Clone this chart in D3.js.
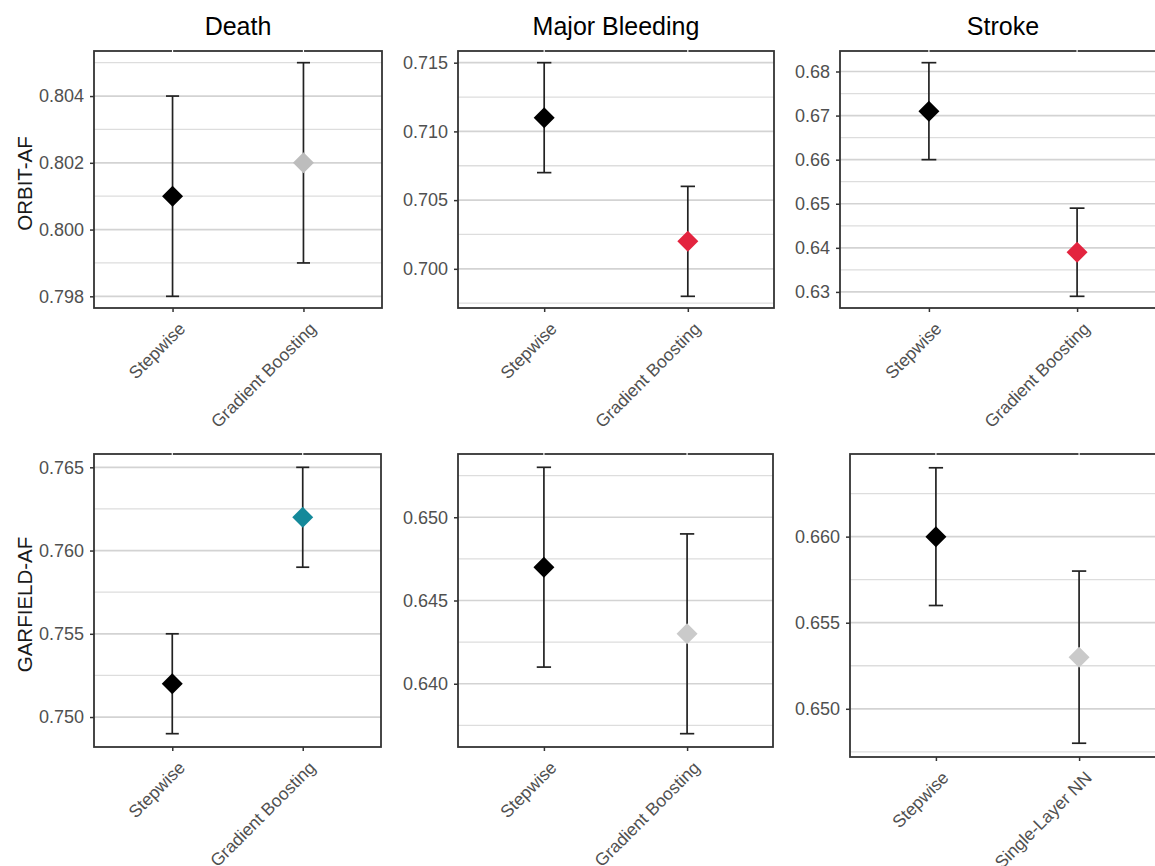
<!DOCTYPE html>
<html>
<head>
<meta charset="utf-8">
<script src="https://cdn.jsdelivr.net/npm/d3@7"></script>
<style>
  body { margin: 0; background: #fff; }
</style>
</head>
<body>
<svg id="chart" width="1155" height="866"></svg>
<script>
// Panels are ordered row by row: ORBIT-AF (top), GARFIELD-AF (bottom)
const outcomes = ['Death', 'Major Bleeding', 'Stroke']
const cohorts = ['ORBIT-AF', 'GARFIELD-AF']

const models = [
  ['Stepwise', 'Gradient Boosting'],
  ['Stepwise', 'Gradient Boosting'],
  ['Stepwise', 'Gradient Boosting'],
  ['Stepwise', 'Gradient Boosting'],
  ['Stepwise', 'Gradient Boosting'],
  ['Stepwise', 'Single-Layer NN']
]

const estimate = [
  [0.801, 0.802],
  [0.711, 0.702],
  [0.671, 0.639],
  [0.752, 0.762],
  [0.647, 0.643],
  [0.660, 0.653]
]
const lower = [
  [0.798, 0.799],
  [0.707, 0.698],
  [0.660, 0.629],
  [0.749, 0.759],
  [0.641, 0.637],
  [0.656, 0.648]
]
const upper = [
  [0.804, 0.805],
  [0.715, 0.706],
  [0.682, 0.649],
  [0.755, 0.765],
  [0.653, 0.649],
  [0.664, 0.658]
]

const yTicks = [
  [0.798, 0.800, 0.802, 0.804],
  [0.700, 0.705, 0.710, 0.715],
  [0.63, 0.64, 0.65, 0.66, 0.67, 0.68],
  [0.750, 0.755, 0.760, 0.765],
  [0.640, 0.645, 0.650],
  [0.650, 0.655, 0.660]
]
const tickFormats = ['.3f', '.3f', '.2f', '.3f', '.3f', '.3f']

// styling / layout
const pointColors = [
  ['#000000', '#bdbdbd'],
  ['#000000', '#e3243f'],
  ['#000000', '#e3243f'],
  ['#000000', '#14899a'],
  ['#000000', '#cacaca'],
  ['#000000', '#cacaca']
]

const panelBoxes = [
  { x0: 94, x1: 382, y0: 51, y1: 308 },
  { x0: 458, x1: 774, y0: 51, y1: 308 },
  { x0: 840, x1: 1166, y0: 51, y1: 308 },
  { x0: 94, x1: 381, y0: 454, y1: 747 },
  { x0: 458, x1: 773, y0: 454, y1: 747 },
  { x0: 850, x1: 1165, y0: 454, y1: 757 }
]

const FONT = '"Liberation Sans", Arial, sans-serif'
const svg = d3.select('#chart')
svg.append('rect').attr('width', 1155).attr('height', 866).attr('fill', '#fff')

panelBoxes.forEach((b, i) => {
  const lo = d3.min(lower[i])
  const hi = d3.max(upper[i])
  const pad = (hi - lo) * 0.05

  const y = d3.scaleLinear().domain([lo - pad, hi + pad]).range([b.y1, b.y0])
  const x = d3.scalePoint().domain(models[i]).range([b.x0, b.x1]).padding(0.6)

  const g = svg.append('g')

  // minor grid at half steps
  const ticks = yTicks[i]
  const step = ticks[1] - ticks[0]
  const minor = ticks.map((v) => v - step / 2).concat([ticks[ticks.length - 1] + step / 2])
    .filter((v) => v > y.domain()[0] && v < y.domain()[1])

  g.append('g')
    .selectAll('line.minor')
    .data(minor)
    .join('line')
    .attr('x1', b.x0).attr('x2', b.x1)
    .attr('y1', (d) => y(d)).attr('y2', (d) => y(d))
    .attr('stroke', '#dddddd')
    .attr('stroke-width', 1.3)

  g.append('g')
    .selectAll('line.major')
    .data(ticks)
    .join('line')
    .attr('x1', b.x0).attr('x2', b.x1)
    .attr('y1', (d) => y(d)).attr('y2', (d) => y(d))
    .attr('stroke', '#d3d3d3')
    .attr('stroke-width', 1.7)

  // error bars
  const bw = (x.step() * 0.1) / 2
  const bars = g.append('g')
    .selectAll('g')
    .data(models[i].map((m, k) => ({ m, est: estimate[i][k], lo: lower[i][k], hi: upper[i][k], col: pointColors[i][k] })))
    .join('g')
    .attr('stroke', '#222')
    .attr('stroke-width', 1.7)

  bars.append('line')
    .attr('x1', (d) => x(d.m)).attr('x2', (d) => x(d.m))
    .attr('y1', (d) => y(d.lo)).attr('y2', (d) => y(d.hi))
  bars.append('line')
    .attr('x1', (d) => x(d.m) - bw).attr('x2', (d) => x(d.m) + bw)
    .attr('y1', (d) => y(d.lo)).attr('y2', (d) => y(d.lo))
  bars.append('line')
    .attr('x1', (d) => x(d.m) - bw).attr('x2', (d) => x(d.m) + bw)
    .attr('y1', (d) => y(d.hi)).attr('y2', (d) => y(d.hi))

  // diamonds
  const r = 10.5
  g.append('g')
    .selectAll('path')
    .data(bars.data())
    .join('path')
    .attr('d', `M0,${-r}L${r},0L0,${r}L${-r},0Z`)
    .attr('transform', (d) => `translate(${x(d.m)},${y(d.est)})`)
    .attr('fill', (d) => d.col)

  // panel border
  g.append('rect')
    .attr('x', b.x0).attr('y', b.y0)
    .attr('width', b.x1 - b.x0).attr('height', b.y1 - b.y0)
    .attr('fill', 'none')
    .attr('stroke', '#333')
    .attr('stroke-width', 1.8)

  // faint white x-grid breaks over the top border
  g.append('g')
    .selectAll('line')
    .data(models[i])
    .join('line')
    .attr('x1', (d) => x(d)).attr('x2', (d) => x(d))
    .attr('y1', b.y0 - 1.5).attr('y2', b.y0 + 1.5)
    .attr('stroke', '#fff')
    .attr('stroke-width', 1.2)

  // y axis
  const yAxis = g.append('g')
    .attr('transform', `translate(${b.x0},0)`)
    .call(d3.axisLeft(y).tickValues(ticks).tickFormat(d3.format(tickFormats[i])).tickSize(4).tickPadding(6))
  yAxis.select('.domain').remove()
  yAxis.selectAll('line').attr('stroke', '#333').attr('stroke-width', 1.5)
  yAxis.selectAll('text')
    .attr('font-family', FONT)
    .attr('font-size', 18)
    .attr('fill', '#505050')

  // x axis
  const xAxis = g.append('g')
    .attr('transform', `translate(0,${b.y1})`)
    .call(d3.axisBottom(x).tickSize(4).tickFormat(''))
  xAxis.select('.domain').remove()
  xAxis.selectAll('line').attr('stroke', '#333').attr('stroke-width', 1.5)

  g.append('g')
    .selectAll('text')
    .data(models[i])
    .join('text')
    .attr('transform', (d) => `translate(${x(d) + 5},${b.y1 + 13}) rotate(-45)`)
    .attr('text-anchor', 'end')
    .attr('dy', '0.71em')
    .attr('font-family', FONT)
    .attr('font-size', 17.5)
    .attr('fill', '#505050')
    .text((d) => d)

  const row = Math.floor(i / 3)
  const col = i % 3

  if (row === 0) {
    svg.append('text')
      .attr('x', (b.x0 + b.x1) / 2)
      .attr('y', 35)
      .attr('text-anchor', 'middle')
      .attr('font-family', FONT)
      .attr('font-size', 25)
      .attr('fill', '#000')
      .text(outcomes[col])
  }

  if (col === 0) {
    svg.append('text')
      .attr('transform', `translate(32,${(b.y0 + b.y1) / 2 + 4}) rotate(-90)`)
      .attr('text-anchor', 'middle')
      .attr('font-family', FONT)
      .attr('font-size', 20.5)
      .attr('fill', '#1a1a1a')
      .text(cohorts[row])
  }
})
</script>
</body>
</html>
